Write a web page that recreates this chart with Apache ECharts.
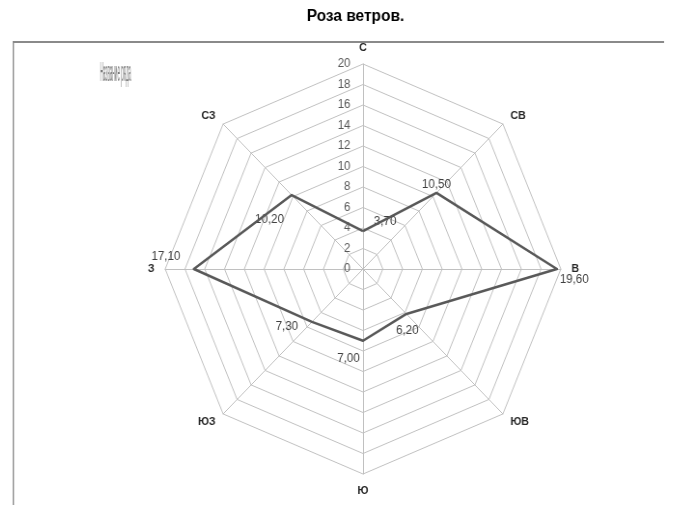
<!DOCTYPE html>
<html>
<head>
<meta charset="utf-8">
<title>Роза ветров</title>
<script src="https://cdn.jsdelivr.net/npm/echarts@6/dist/echarts.min.js"></script>
<style>
    html, body { margin: 0; padding: 0; background: #fff; }
    /* the reference rose is a little narrower than it is tall */
    #main { width: 675px; height: 505px; transform: scaleX(0.965); transform-origin: 363px 0; }
</style>
</head>
<body>
<div id="main"></div>
<script>
// направления, по часовой стрелке от севера
const directions = ['С', 'СВ', 'В', 'ЮВ', 'Ю', 'ЮЗ', 'З', 'СЗ'];
const windValues = [3.7, 10.5, 19.6, 6.2, 7.0, 7.3, 17.1, 10.2];
const axisMin = 0;
const axisMax = 20;
const axisStep = 2;

const SX = 0.965;
const CX = 363;
// screen x -> x before the css squeeze
const px = (x) => CX + (x - CX) / SX;

// where each value label sits relative to its point (same order as directions)
const labelOffsets = [[23, -9], [0, -8], [18, 11], [1, 17], [-15, 18], [-26, 5], [-29, -12], [-23, 25]];

// echarts lays radar axes counter-clockwise, so walk the list backwards
const order = directions.map((d, i) => (directions.length - i) % directions.length);
const ordNames = order.map(i => directions[i]);
const ordValues = order.map(i => windValues[i]);

const fmt = (v) => v.toFixed(2).replace('.', ',');
const textFont = "'Liberation Sans', Arial, sans-serif";

let chart = echarts.init(document.getElementById('main'));

let labelSeries = windValues.map((val, i) => ({
    type: 'radar',
    silent: true,
    symbol: 'circle',
    symbolSize: 1,
    itemStyle: { color: 'rgba(0,0,0,0)' },
    lineStyle: { width: 0, opacity: 0 },
    label: {
        show: true,
        position: 'inside',
        offset: labelOffsets[i],
        color: '#404040',
        fontSize: 12,
        fontFamily: textFont,
        formatter: (p) => {
            const v = Array.isArray(p.value) ? p.value[p.dimensionIndex] : p.value;
            return v === val ? fmt(v) : '';
        }
    },
    data: [{ value: ordValues }]
}));

const opts = {
    animation: false,
    title: {
        text: 'Роза ветров.',
        left: px(302),
        top: 4,
        textStyle: {
            fontFamily: "'Liberation Sans Narrow', 'Liberation Sans', Arial, sans-serif",
            fontSize: 16,
            fontWeight: 'bold',
            color: '#000'
        }
    },
    graphic: [
        {
            // рамка области построения
            type: 'rect',
            silent: true,
            shape: { x: px(13), y: 42, width: 800, height: 600 },
            style: { fill: 'none', stroke: '#8a8a8a', lineWidth: 2 }
        },
        {
            // сжатая легенда
            type: 'text',
            silent: true,
            x: px(100),
            y: 60,
            scaleX: 0.17,
            style: {
                text: 'Название ряда',
                fontFamily: textFont,
                fontSize: 27,
                fill: '#7a7a7a'
            }
        }
    ],
    radar: {
        center: [CX, 269],
        radius: 205,
        startAngle: 90,
        splitNumber: (axisMax - axisMin) / axisStep,
        shape: 'polygon',
        nameGap: 11,
        indicator: ordNames.map(n => ({ name: n, min: axisMin, max: axisMax })),
        axisName: {
            color: '#262626',
            fontSize: 11,
            fontWeight: 'bold',
            fontFamily: textFont
        },
        axisLine: { lineStyle: { color: '#c0c0c0', width: 1 } },
        splitLine: { lineStyle: { color: '#c0c0c0', width: 1 } },
        splitArea: { show: false },
        axisLabel: { show: false }
    },
    // только подписи шкалы вдоль северной оси
    grid: { left: CX, top: 64, width: 1, height: 205 },
    xAxis: { type: 'value', show: false },
    yAxis: {
        type: 'value',
        min: axisMin,
        max: axisMax,
        interval: axisStep,
        axisLine: { show: false },
        axisTick: { show: false },
        splitLine: { show: false },
        axisLabel: {
            margin: 13,
            color: '#595959',
            fontSize: 12,
            fontFamily: textFont
        }
    },
    series: [
        {
            type: 'radar',
            silent: true,
            symbol: 'none',
            lineStyle: { color: '#595959', width: 2.5 },
            data: [{ value: ordValues }],
            z: 3
        },
        ...labelSeries
    ]
};
chart.setOption(opts);
</script>
</body>
</html>
